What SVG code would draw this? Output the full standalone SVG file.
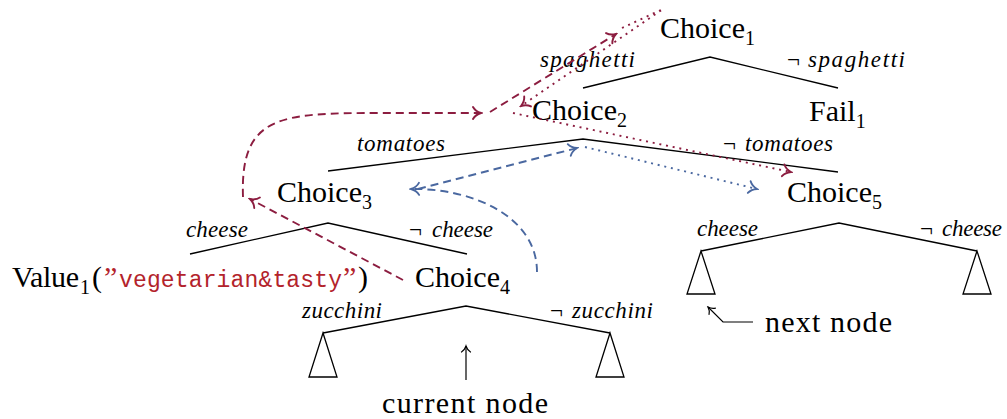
<svg xmlns="http://www.w3.org/2000/svg" width="1007" height="419" viewBox="0 0 1007 419">
  <style>
    text { font-family: "Liberation Serif", "Times New Roman", serif; fill: #000; }
    .node { font-size: 30px; }
    .sub { font-size: 20px; }
    .lbl { font-size: 23px; font-style: italic; }
    .neg { font-style: normal; }
    .str { font-family: "Liberation Mono", "Courier New", monospace; font-size: 23px; fill: #b3232b; }
    .q { fill: #b3232b; }
    .edge { fill: none; stroke: #000; stroke-width: 1.3; stroke-linejoin: miter; }
    .leaf { fill: none; stroke: #000; stroke-width: 1.3; }
    .ptr { fill: none; stroke: #000; stroke-width: 1.2; }
    .red { fill: none; stroke: #8c1d40; stroke-width: 1.9; }
    .blue { fill: none; stroke: #4a68a0; stroke-width: 1.9; }
    .dash { stroke-dasharray: 8 5; }
    .dot { stroke-dasharray: 2 4.8; }
  </style>
  <defs>
    <marker id="tipRed" viewBox="-10 -8 12 16" markerWidth="12" markerHeight="16" refX="0" refY="0" orient="auto" markerUnits="userSpaceOnUse">
      <path d="M-8,-6 C-6,-2.5 -2,-0.6 0,0 C-2,0.6 -6,2.5 -8,6" fill="none" stroke="#8c1d40" stroke-width="1.9" stroke-linecap="round"/>
    </marker>
    <marker id="tipBlue" viewBox="-10 -8 12 16" markerWidth="12" markerHeight="16" refX="0" refY="0" orient="auto" markerUnits="userSpaceOnUse">
      <path d="M-8,-6 C-6,-2.5 -2,-0.6 0,0 C-2,0.6 -6,2.5 -8,6" fill="none" stroke="#4a68a0" stroke-width="1.9" stroke-linecap="round"/>
    </marker>
    <marker id="tipBlack" viewBox="-10 -8 12 16" markerWidth="12" markerHeight="16" refX="0" refY="0" orient="auto" markerUnits="userSpaceOnUse">
      <path d="M-6,-4.5 C-4.5,-2 -1.5,-0.5 0,0 C-1.5,0.5 -4.5,2 -6,4.5" fill="none" stroke="#000" stroke-width="1.2" stroke-linecap="round"/>
    </marker>
  </defs>

  <!-- tree branches -->
  <g id="branches">
    <path class="edge" d="M583,88 L710,57 L838,88"/>
    <path class="edge" d="M328,171 L583,139 L838,172"/>
    <path class="edge" d="M190,254 L328,223 L467,254"/>
    <path class="edge" d="M323,333 L466,306 L610,333"/>
    <path class="edge" d="M701,251 L839,223 L977,251"/>
  </g>

  <!-- branch labels -->
  <g id="labels">
    <text class="lbl" x="540" y="67" textLength="95" lengthAdjust="spacing">spaghetti</text>
    <text class="lbl" x="787" y="67"><tspan class="neg">¬</tspan><tspan x="808" textLength="97" lengthAdjust="spacing">spaghetti</tspan></text>
    <text class="lbl" x="357" y="151" textLength="88" lengthAdjust="spacing">tomatoes</text>
    <text class="lbl" x="723" y="151"><tspan class="neg">¬</tspan><tspan x="745" textLength="88" lengthAdjust="spacing">tomatoes</tspan></text>
    <text class="lbl" x="186" y="237" textLength="62" lengthAdjust="spacing">cheese</text>
    <text class="lbl" x="409" y="237"><tspan class="neg">¬</tspan><tspan x="432" textLength="61" lengthAdjust="spacing">cheese</tspan></text>
    <text class="lbl" x="302" y="318" textLength="80" lengthAdjust="spacing">zucchini</text>
    <text class="lbl" x="550" y="318"><tspan class="neg">¬</tspan><tspan x="572" textLength="81" lengthAdjust="spacing">zucchini</tspan></text>
    <text class="lbl" x="697" y="236" textLength="61" lengthAdjust="spacing">cheese</text>
    <text class="lbl" x="920" y="236"><tspan class="neg">¬</tspan><tspan x="942" textLength="60" lengthAdjust="spacing">cheese</tspan></text>
  </g>

  <!-- nodes -->
  <g id="choice1"><text class="node" x="660" y="38">Choice<tspan class="sub" dy="7">1</tspan></text></g>
  <g id="choice2"><text class="node" x="532" y="120">Choice<tspan class="sub" dy="7">2</tspan></text></g>
  <g id="fail1"><text class="node" x="809" y="121">Fail<tspan class="sub" dy="7">1</tspan></text></g>
  <g id="choice3"><text class="node" x="277" y="202">Choice<tspan class="sub" dy="7">3</tspan></text></g>
  <g id="choice5"><text class="node" x="787" y="202">Choice<tspan class="sub" dy="7">5</tspan></text></g>
  <g id="choice4"><text class="node" x="415" y="287">Choice<tspan class="sub" dy="7">4</tspan></text></g>
  <g id="value1">
    <text class="node" x="12" y="287"><tspan textLength="67" lengthAdjust="spacing">Value</tspan><tspan class="sub" x="80" dy="7">1</tspan><tspan x="92" dy="-7">(</tspan><tspan class="q" x="104">”</tspan></text>
    <text class="str" x="119" y="287" textLength="223" lengthAdjust="spacing">vegetarian&amp;tasty</text>
    <text class="node" x="343" y="287"><tspan class="q">”</tspan><tspan x="358">)</tspan></text>
  </g>

  <!-- unexplored subtrees -->
  <g id="subtree-c4-left"><path class="leaf" d="M323,333 L309,377 L337,377 Z"/></g>
  <g id="subtree-c4-right"><path class="leaf" d="M610,333 L596,377 L624,377 Z"/></g>
  <g id="subtree-c5-left"><path class="leaf" d="M701,251 L687,294 L715,294 Z"/></g>
  <g id="subtree-c5-right"><path class="leaf" d="M977,251 L963,294 L991,294 Z"/></g>

  <!-- position annotations -->
  <g id="current-node">
    <path class="ptr" d="M466,380 L466,346" marker-end="url(#tipBlack)"/>
    <text class="node" x="382" y="413" textLength="166" lengthAdjust="spacing">current node</text>
  </g>
  <g id="next-node">
    <path class="ptr" d="M753,322 L723,322 L708,307" marker-end="url(#tipBlack)"/>
    <text class="node" x="765" y="332" textLength="127" lengthAdjust="spacing">next node</text>
  </g>

  <!-- search traversals -->
  <g id="connectors">
    <path class="red dash" d="M403,280 L250,199" marker-end="url(#tipRed)"/>
    <path class="red dash" d="M243,197 C240,115 280,113 380,113 L481,113" marker-end="url(#tipRed)"/>
    <path class="red dash" d="M490,112 L616,34" marker-end="url(#tipRed)"/>
    <path class="red dot" d="M622,28 L663,9 L521,106" marker-end="url(#tipRed)"/>
    <path class="red dot" d="M513,113 L791,172" marker-end="url(#tipRed)"/>
    <path class="blue dash" d="M537,272 C537,215 470,188 411,189" marker-end="url(#tipBlue)"/>
    <path class="blue dash" d="M418,189 L577,148" marker-end="url(#tipBlue)"/>
    <path class="blue dot" d="M585,147 L757,189" marker-end="url(#tipBlue)"/>
  </g>
</svg>
